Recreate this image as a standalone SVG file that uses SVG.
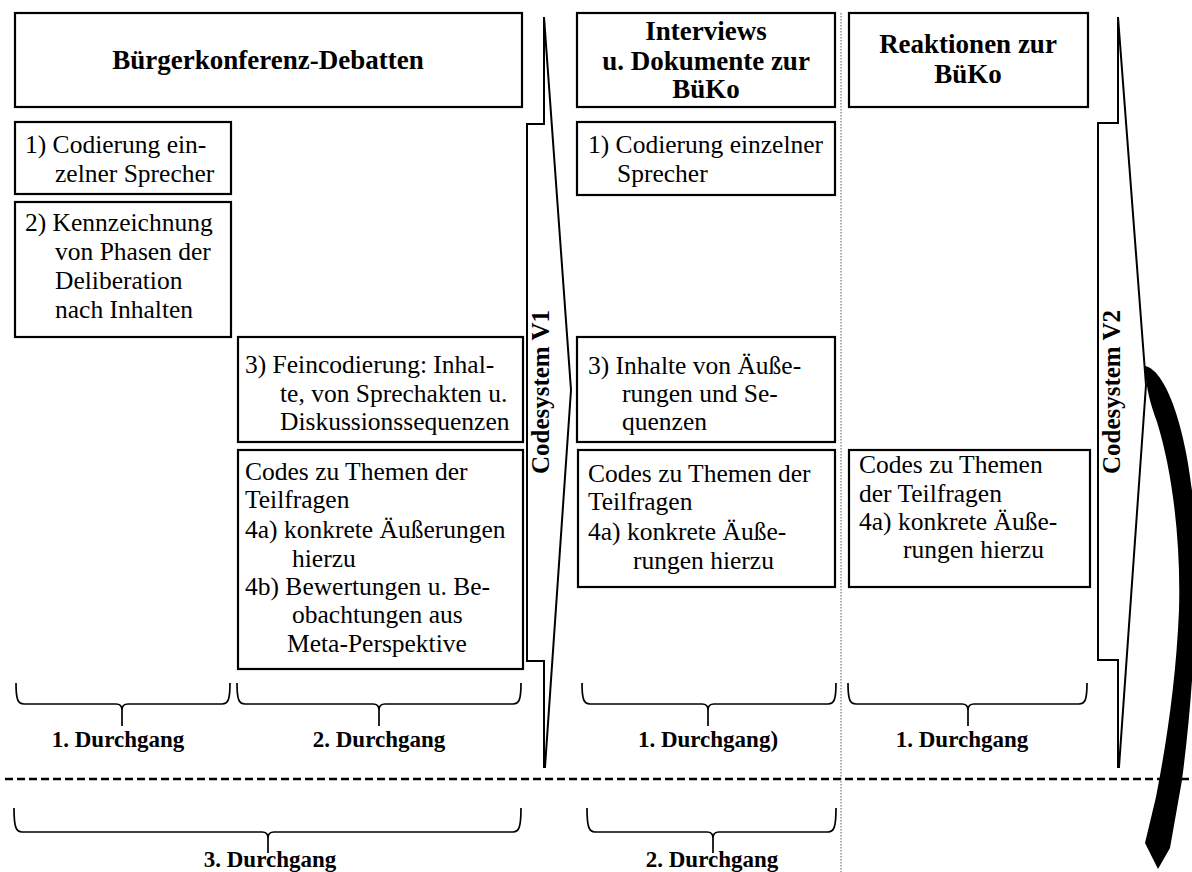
<svg xmlns="http://www.w3.org/2000/svg" width="1192" height="872" viewBox="0 0 1192 872">
<style>
.bg{fill:#fff}
.box{fill:#fff;stroke:#000;stroke-width:2.2}
.t{font-family:"Liberation Serif","Times New Roman",serif;font-size:25.5px;fill:#000}
.h{font-family:"Liberation Serif","Times New Roman",serif;font-weight:bold;font-size:27px;text-anchor:middle;fill:#000}
.d{font-family:"Liberation Serif","Times New Roman",serif;font-weight:bold;font-size:23px;text-anchor:middle;fill:#000}
.v{font-family:"Liberation Serif","Times New Roman",serif;font-weight:bold;font-size:25px;text-anchor:middle;fill:#000}
.arr{fill:#fff;stroke:#000;stroke-width:2;stroke-linejoin:miter}
.brace{fill:none;stroke:#000;stroke-width:1.7}
.dash{stroke:#000;stroke-width:2.6;stroke-dasharray:8 4;fill:none}
.dot{stroke:#777;stroke-width:1.2;stroke-dasharray:1.5 1.5;fill:none}
</style>
<rect class="bg" x="0" y="0" width="1192" height="872"/>

<g id="separators">
<line class="dot" x1="841" y1="13" x2="841" y2="872"/>
<line class="dash" x1="5" y1="779" x2="1192" y2="779"/>
</g>

<g id="head-buergerkonferenz">
<rect class="box" x="15" y="13" width="507" height="94"/>
<text class="h" x="268" y="69">Bürgerkonferenz-Debatten</text>
</g>
<g id="head-interviews">
<rect class="box" x="577" y="13" width="258" height="94"/>
<text class="h" x="706" y="40">Interviews</text>
<text class="h" x="706" y="70">u. Dokumente zur</text>
<text class="h" x="706" y="98">BüKo</text>
</g>
<g id="head-reaktionen">
<rect class="box" x="849" y="13" width="239" height="94"/>
<text class="h" x="968" y="53">Reaktionen zur</text>
<text class="h" x="968" y="83">BüKo</text>
</g>

<g id="b1-codierung">
<rect class="box" x="15" y="122" width="216" height="72"/>
<text class="t" x="25" y="153">1) Codierung ein-</text>
<text class="t" x="55" y="182">zelner Sprecher</text>
</g>
<g id="b1-kennzeichnung">
<rect class="box" x="15" y="202" width="216" height="135"/>
<text class="t" x="25" y="231">2) Kennzeichnung</text>
<text class="t" x="55" y="260">von Phasen der</text>
<text class="t" x="55" y="289">Deliberation</text>
<text class="t" x="55" y="318">nach Inhalten</text>
</g>
<g id="b1-feincodierung">
<rect class="box" x="238" y="337" width="285" height="105"/>
<text class="t" x="245" y="373">3) Feincodierung: Inhal-</text>
<text class="t" x="280" y="402">te, von Sprechakten u.</text>
<text class="t" x="280" y="430">Diskussionssequenzen</text>
</g>
<g id="b1-codes">
<rect class="box" x="238" y="450" width="285" height="219"/>
<text class="t" x="245" y="480">Codes zu Themen der</text>
<text class="t" x="245" y="508">Teilfragen</text>
<text class="t" x="245" y="538">4a) konkrete Äußerungen</text>
<text class="t" x="292" y="567">hierzu</text>
<text class="t" x="245" y="595">4b) Bewertungen u. Be-</text>
<text class="t" x="292" y="623">obachtungen aus</text>
<text class="t" x="287" y="652">Meta-Perspektive</text>
</g>

<g id="b2-codierung">
<rect class="box" x="577" y="122" width="258" height="73"/>
<text class="t" x="588" y="153">1) Codierung einzelner</text>
<text class="t" x="617" y="182">Sprecher</text>
</g>
<g id="b2-inhalte">
<rect class="box" x="577" y="337" width="258" height="105"/>
<text class="t" x="588" y="374">3) Inhalte von Äuße-</text>
<text class="t" x="622" y="402">rungen und Se-</text>
<text class="t" x="622" y="430">quenzen</text>
</g>
<g id="b2-codes">
<rect class="box" x="578" y="450" width="257" height="137"/>
<text class="t" x="588" y="482">Codes zu Themen der</text>
<text class="t" x="588" y="510">Teilfragen</text>
<text class="t" x="588" y="540">4a) konkrete Äuße-</text>
<text class="t" x="633" y="569">rungen hierzu</text>
</g>

<g id="b3-codes">
<rect class="box" x="849" y="450" width="241" height="137"/>
<text class="t" x="859" y="473">Codes zu Themen</text>
<text class="t" x="859" y="502">der Teilfragen</text>
<text class="t" x="859" y="530">4a) konkrete Äuße-</text>
<text class="t" x="903" y="558">rungen hierzu</text>
</g>

<g id="codesystem-v1">
<path class="arr" d="M544,17 L571,390 L545,767 L544,767 L544,661 L527,661 L527,124 L544,124 Z"/>
<text class="v" transform="translate(549,392) rotate(-90)">Codesystem V1</text>
</g>
<g id="codesystem-v2">
<path class="arr" d="M1118,17 L1146,385 L1119,767 L1118,767 L1118,660 L1098,660 L1098,123 L1118,123 Z"/>
<text class="v" transform="translate(1120,392) rotate(-90)">Codesystem V2</text>
</g>

<g id="connectors">
<path d="M1145,366 C1166,370 1186,428 1193,500 C1199,580 1195,680 1182,780 L1170,848 L1158,869 L1145,843 L1156,797 C1167,740 1176,680 1179,610 C1181,540 1172,470 1157,422 C1151,405 1146,390 1145,366 Z" fill="#000"/>
</g>

<g id="braces">
<path class="brace" d="M16,683 C16,700 18,704 24,704 L116,704 C120,704 122,706 122,710 L122,726 M122,710 C122,706 124,704 128,704 L222,704 C228,704 230,700 230,683"/>
<path class="brace" d="M237,683 C237,700 239,704 245,704 L373,704 C377,704 379,706 379,710 L379,726 M379,710 C379,706 381,704 385,704 L513,704 C519,704 521,700 521,683"/>
<path class="brace" d="M582,683 C582,700 584,704 590,704 L702,704 C706,704 708,706 708,710 L708,726 M708,710 C708,706 710,704 714,704 L828,704 C834,704 836,700 836,683"/>
<path class="brace" d="M848,683 C848,700 850,704 856,704 L962,704 C966,704 968,706 968,710 L968,726 M968,710 C968,706 970,704 974,704 L1079,704 C1085,704 1087,700 1087,683"/>
<path class="brace" d="M14,808 C14,827 16,832 22,832 L262,832 C266,832 268,834 268,838 L268,853 M268,838 C268,834 270,832 274,832 L513,832 C519,832 521,827 521,808"/>
<path class="brace" d="M587,808 C587,827 589,832 595,832 L707,832 C711,832 713,834 713,838 L713,853 M713,838 C713,834 715,832 719,832 L828,832 C834,832 836,827 836,808"/>
</g>

<g id="labels">
<text class="d" x="118" y="747">1. Durchgang</text>
<text class="d" x="379" y="747">2. Durchgang</text>
<text class="d" x="708" y="747">1. Durchgang)</text>
<text class="d" x="962" y="747">1. Durchgang</text>
<text class="d" x="270" y="867">3. Durchgang</text>
<text class="d" x="712" y="867">2. Durchgang</text>
</g>
</svg>
